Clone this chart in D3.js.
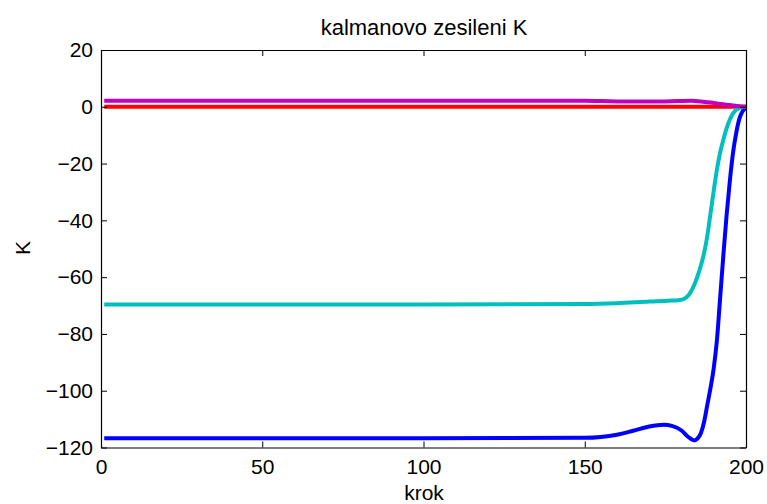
<!DOCTYPE html>
<html>
<head>
<meta charset="utf-8">
<script src="https://cdn.jsdelivr.net/npm/d3@7"></script>
<style>
  body { margin: 0; background: #fff; }
  text { font-family: "Liberation Sans", Arial, Helvetica, sans-serif; }
</style>
</head>
<body>
<div id="viz"></div>
<script>
var width = 767,
    height = 504;

// step number and gain value at that step
var blueX    = [1, 100, 150, 155, 160, 165, 170, 174.5, 177, 180, 182, 184, 185, 186, 187, 188, 189, 190, 191, 192, 193, 194, 195, 196, 197, 198, 199, 200];
var blueY    = [-116.7, -116.7, -116.6, -116.3, -115.5, -114.1, -112.6, -112.0, -112.4, -114.0, -116.2, -117.5, -116.8, -115, -111, -105, -99, -92, -82, -67, -52, -38, -26, -16, -9, -4, -1.5, -0.3];
var redX     = [1, 100, 200];
var redY     = [0, 0, 0];
var cyanX    = [1, 100, 150, 160, 170, 176, 179, 181, 182, 183, 184, 185, 186, 187, 188, 189, 190, 191, 192, 193, 194, 195, 196, 197, 198, 199, 200];
var cyanY    = [-69.6, -69.6, -69.5, -69.2, -68.6, -68.3, -68.1, -67.5, -66.6, -65.0, -62.6, -59.6, -56.0, -51.5, -45.5, -37.5, -29.5, -22, -16, -11.5, -7.5, -4.5, -2.3, -1.0, -0.4, -0.1, 0];
var magentaX = [1, 100, 150, 160, 175, 183, 186, 189, 192, 195, 198, 200];
var magentaY = [2.1, 2.1, 2.1, 1.9, 1.9, 2.1, 1.9, 1.5, 1.0, 0.6, 0.2, 0];

var xTicks = [0, 50, 100, 150, 200];
var yTicks = [-120, -100, -80, -60, -40, -20, 0, 20];

var series = [
  { xs: blueX,    ys: blueY,    color: "#0000ff" },
  { xs: redX,     ys: redY,     color: "#ff0000" },
  { xs: cyanX,    ys: cyanY,    color: "#00bfbf" },
  { xs: magentaX, ys: magentaY, color: "#bf00bf" }
];

// plot box (window.top is reserved, so use other names)
var boxL = 101, boxR = 746, boxT = 50, boxB = 447.5;

var x = d3.scaleLinear().domain([0, 200]).range([boxL, boxR]);
var y = d3.scaleLinear().domain([-120, 20]).range([boxB, boxT]);

var svg = d3.select("#viz").append("svg")
    .attr("width", width)
    .attr("height", height)
    .style("background-color", "white");

var line = d3.line()
    .x(function(d) { return x(d[0]); })
    .y(function(d) { return y(d[1]); })
    .curve(d3.curveMonotoneX);

svg.selectAll("path.series")
    .data(series)
    .enter()
    .append("path")
    .attr("class", "series")
    .attr("fill", "none")
    .attr("stroke", function(d) { return d.color; })
    .attr("stroke-width", 4)
    .attr("stroke-linejoin", "round")
    .attr("d", function(d) { return line(d.xs.map(function(v, i) { return [v, d.ys[i]]; })); });

// axes with inward ticks, mirrored on the opposite sides
var tickLen = 6;
var fmt = d3.format("");

svg.append("g")
    .attr("transform", "translate(0," + boxB + ")")
    .call(d3.axisBottom(x).tickValues(xTicks).tickSizeInner(-tickLen).tickSizeOuter(0).tickPadding(12).tickFormat(fmt));
svg.append("g")
    .attr("transform", "translate(0," + boxT + ")")
    .call(d3.axisTop(x).tickValues(xTicks).tickSizeInner(-tickLen).tickSizeOuter(0).tickFormat(""));
svg.append("g")
    .attr("transform", "translate(" + boxL + ",0)")
    .call(d3.axisLeft(y).tickValues(yTicks).tickSizeInner(-tickLen).tickSizeOuter(0).tickPadding(8).tickFormat(fmt));
svg.append("g")
    .attr("transform", "translate(" + boxR + ",0)")
    .call(d3.axisRight(y).tickValues(yTicks).tickSizeInner(-tickLen).tickSizeOuter(0).tickFormat(""));

svg.selectAll(".domain").attr("stroke", "#000").attr("stroke-width", 1.2);
svg.selectAll(".tick line").attr("stroke", "#000");
svg.selectAll(".tick text")
    .attr("fill", "#000")
    .style("font-size", "21px")
    .style("font-family", "'Liberation Sans', Arial, sans-serif");

svg.append("text")
    .attr("x", 424)
    .attr("y", 35)
    .attr("text-anchor", "middle")
    .style("font-size", "22px")
    .text("kalmanovo zesileni K");

svg.append("text")
    .attr("x", 424)
    .attr("y", 500)
    .attr("text-anchor", "middle")
    .style("font-size", "21px")
    .text("krok");

svg.append("text")
    .attr("transform", "translate(30,248) rotate(-90)")
    .attr("text-anchor", "middle")
    .style("font-size", "21px")
    .text("K");
</script>
</body>
</html>
